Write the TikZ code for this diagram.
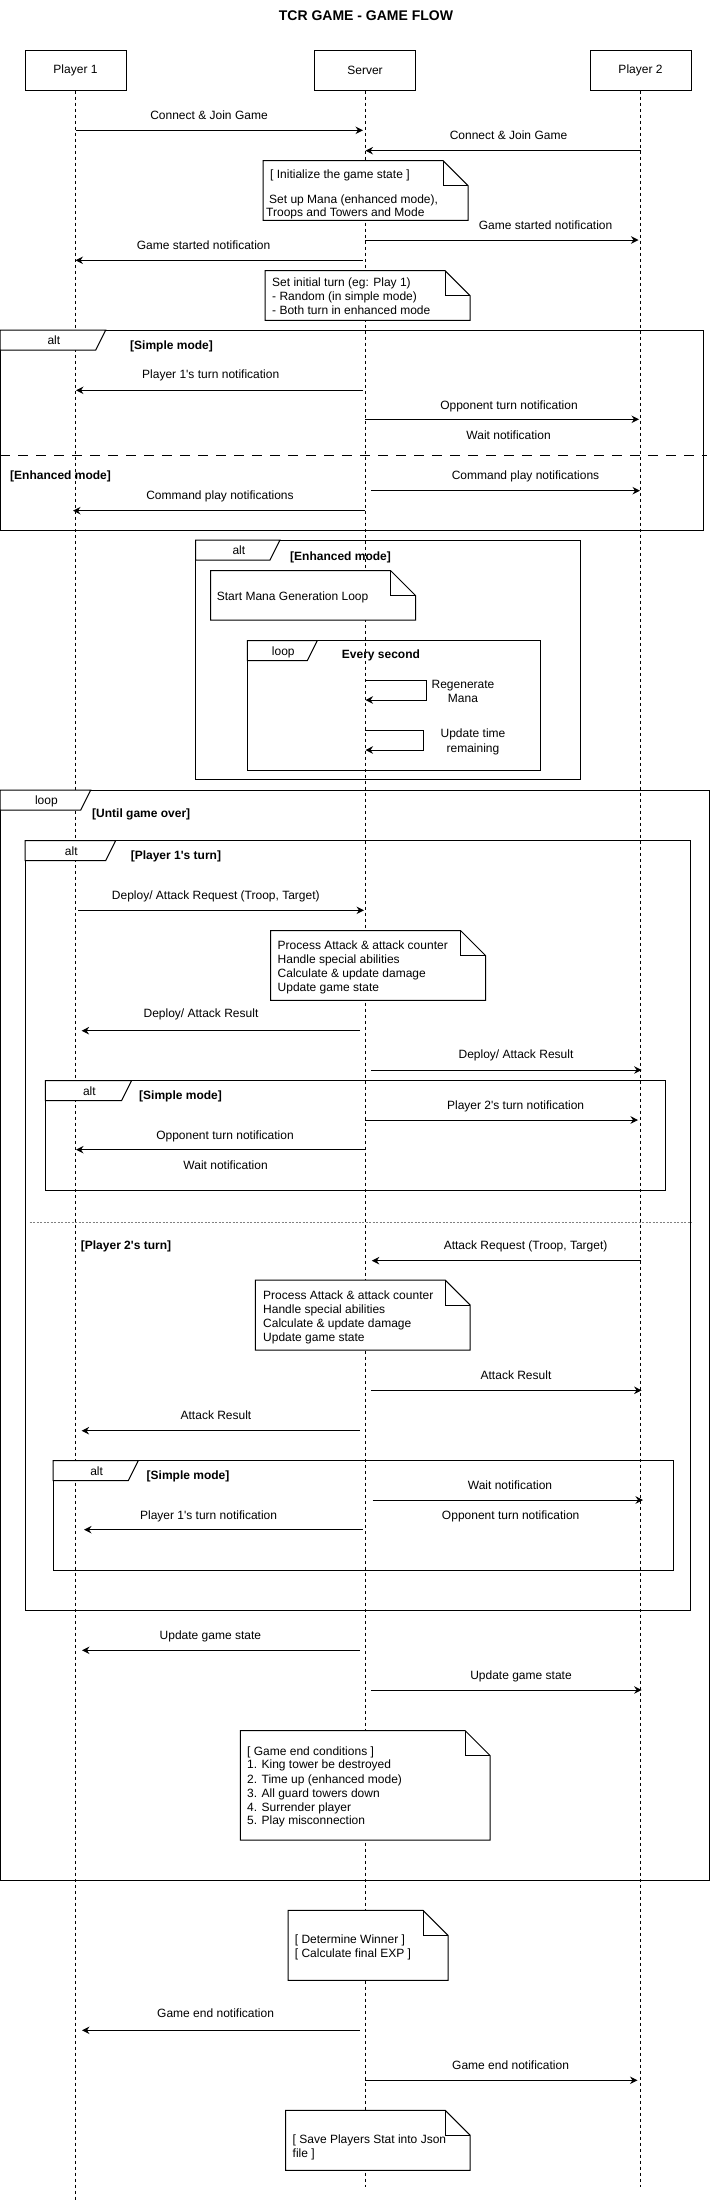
\documentclass[tikz,border=0pt]{standalone}
\usepackage{fontspec}
\setmainfont{Liberation Sans}[Ligatures=TeXOff]
\usetikzlibrary{arrows.meta}
\tikzset{
  lbl/.style={inner sep=0pt, font=\fontsize{12pt}{14pt}\selectfont, text height=8.6pt, text depth=0pt},
  blbl/.style={lbl, font=\fontsize{12pt}{14pt}\selectfont\bfseries},
  msg/.style={line width=1pt, -{Stealth[length=7.5pt,width=7.5pt,inset=2.5pt]}},
  lifeline/.style={line width=1pt, dash pattern=on 3pt off 3pt},
  framebox/.style={line width=1pt},
  notebox/.style={line width=1pt, fill=white, line join=miter},
  actor/.style={draw, line width=1pt, minimum width=101pt, minimum height=40pt, inner sep=0pt, font=\fontsize{12pt}{14pt}\selectfont}
}
% message: name, y, xfrom, xto, label x, label y, text
\newcommand\Msg[7]{%
  \coordinate (#1a) at (#3,#2);
  \coordinate (#1b) at (#4,#2);
  \draw[msg] (#1a) -- (#1b);
  \node[lbl] (#1t) at (#5,#6) {#7};}
% frame: name, x1, y1, x2, y2, tab width, tab label
\newcommand\Frame[7]{%
  \draw[framebox] (#2,#3) rectangle (#4,#5);
  \draw[framebox, fill=white] (#2,#3) -- ({#2+#6},#3) -- ({#2+#6-10},{#3+20}) -- (#2,{#3+20}) -- cycle;
  \node[lbl] (#1) at ({#2+#6/2+1},{#3+10.5}) {#7};}
% note: x1, y1, x2, y2
\newcommand\Note[4]{%
  \draw[notebox] (#1,#2) -- ({#3-25},#2) -- (#3,{#2+25}) -- (#3,#4) -- (#1,#4) -- cycle;
  \draw[line width=1pt] ({#3-25},#2) -- ({#3-25},{#2+25}) -- (#3,{#2+25});}
\begin{document}
\begin{tikzpicture}[x=1pt, y=-1pt]
\useasboundingbox (0,0) rectangle (711,2201);

\node[inner sep=0pt, font=\fontsize{14pt}{16pt}\selectfont\bfseries, text height=10pt, text depth=0pt] (title) at (366,15) {TCR GAME - GAME FLOW};

% participants and lifelines
\node[actor] (p1) at (75.5,70) {Player 1};
\node[actor] (srv) at (365,70) {Server};
\node[actor] (p2) at (640.5,70) {Player 2};
\coordinate (p1end) at (75.5,2201);
\coordinate (srvend) at (365,2187);
\coordinate (p2end) at (640.5,2187);
\draw[lifeline] (p1.south) -- (p1end);
\draw[lifeline] (srv.south) -- (srvend);
\draw[lifeline] (p2.south) -- (p2end);

% initial messages
\Msg{m1}{130.3}{75.5}{363}{209}{114.7}{Connect \& Join Game}
\Msg{m2}{150.7}{640.5}{365.5}{508.5}{134.7}{Connect \& Join Game}
\Note{263}{160.7}{468}{220.3}
\node[lbl, anchor=west] (n1a) at (270,173.7) {[ Initialize the game state ]};
\node[lbl, anchor=west] (n1b) at (269,198.7) {Set up Mana (enhanced mode),};
\node[lbl, anchor=west] (n1c) at (266,212.3) {Troops and Towers and Mode};
\Msg{m3}{240}{365}{638.5}{545.6}{224.7}{Game started notification}
\Msg{m4}{260.3}{363}{75.5}{203.6}{244.7}{Game started notification}
\Note{265}{270.7}{470}{320.3}
\node[lbl, anchor=west] (n2a) at (272,282) {Set initial turn (eg: Play 1)};
\node[lbl, anchor=west] (n2b) at (272,295.7) {- Random (in simple mode)};
\node[lbl, anchor=west] (n2c) at (272,309.7) {- Both turn in enhanced mode};

% alt frame: simple / enhanced
\Frame{fA}{0}{330}{703}{530}{105.7}{alt}
\node[blbl, anchor=west] (gA1) at (130,345.3) {[Simple mode]};
\Msg{m5}{390.3}{363}{76}{210.7}{374.3}{Player 1's turn notification}
\Msg{m6}{419.3}{365}{639}{509}{404.7}{Opponent turn notification}
\node[lbl] (m6w) at (508.6,435) {Wait notification};
\coordinate (dA1) at (0,455);
\coordinate (dA2) at (707,455);
\draw[line width=1pt, dash pattern=on 10pt off 8pt] (dA1) -- (dA2);
\node[blbl, anchor=west] (gA2) at (10,475.3) {[Enhanced mode]};
\Msg{m7}{490.7}{371}{640}{525.5}{475}{Command play notifications}
\Msg{m8}{510.7}{365}{73}{220}{494.7}{Command play notifications}

% alt frame: enhanced mode mana loop
\Frame{fB}{195.7}{540}{580}{779.3}{84.3}{alt}
\node[blbl, anchor=west] (gB) at (290,555.7) {[Enhanced mode]};
\Note{210.7}{570.7}{415.7}{620}
\node[lbl, anchor=west] (n3) at (216.7,595.7) {Start Mana Generation Loop};
\Frame{fC}{247.3}{640.7}{540.7}{770}{70}{loop}
\node[blbl, anchor=west] (gC) at (341.7,654.3) {Every second};
\coordinate (s1a) at (365,680.7);
\coordinate (s1b) at (426,680.7);
\coordinate (s1c) at (426,700);
\coordinate (s1d) at (365.5,700);
\draw[msg] (s1a) -- (s1b) -- (s1c) -- (s1d);
\node[lbl] (s1t1) at (463,684) {Regenerate};
\node[lbl] (s1t2) at (463,698.3) {Mana};
\coordinate (s2a) at (365,730.7);
\coordinate (s2b) at (423.3,730.7);
\coordinate (s2c) at (423.3,750);
\coordinate (s2d) at (365.5,750);
\draw[msg] (s2a) -- (s2b) -- (s2c) -- (s2d);
\node[lbl] (s2t1) at (473,732.7) {Update time};
\node[lbl] (s2t2) at (473,748.3) {remaining};

% main loop
\Frame{fD}{0}{790}{709.7}{1880}{90.7}{loop}
\node[blbl, anchor=west] (gD) at (92,813.3) {[Until game over]};
\Frame{fE}{25}{840.7}{690.6}{1610}{90.6}{alt}
\node[blbl, anchor=west] (gE1) at (130.6,855.3) {[Player 1's turn]};
\Msg{m9}{910.3}{78}{364}{215.8}{895.3}{Deploy/ Attack Request (Troop, Target)}
\Note{270.7}{930.7}{485.7}{1000.3}
\node[lbl, anchor=west] (n4a) at (277.5,944.7) {Process Attack \& attack counter};
\node[lbl, anchor=west] (n4b) at (277.5,959) {Handle special abilities};
\node[lbl, anchor=west] (n4c) at (277.5,973) {Calculate \& update damage};
\node[lbl, anchor=west] (n4d) at (277.5,986.7) {Update game state};
\Msg{m10}{1030.7}{359.6}{81.6}{201}{1012.7}{Deploy/ Attack Result}
\Msg{m11}{1070}{371}{641.6}{516}{1054.3}{Deploy/ Attack Result}
\Frame{fF}{45.3}{1080.7}{665.7}{1190}{86.2}{alt}
\node[blbl, anchor=west] (gF) at (139,1095.3) {[Simple mode]};
\Msg{m12}{1120}{365}{638}{515.6}{1104.7}{Player 2's turn notification}
\Msg{m13}{1149.7}{365}{76}{225}{1134.7}{Opponent turn notification}
\node[lbl] (m13w) at (225.6,1164.7) {Wait notification};
\coordinate (dE1) at (29.5,1222.7);
\coordinate (dE2) at (691.5,1222.7);
\draw[line width=0.8pt, gray, dash pattern=on 2pt off 1.5pt] (dE1) -- (dE2);
\node[blbl, anchor=west] (gE2) at (80.7,1245.3) {[Player 2's turn]};
\Msg{m14}{1260.7}{640.5}{371.8}{525.6}{1245.3}{Attack Request (Troop, Target)}
\Note{255.3}{1280}{470.2}{1350}
\node[lbl, anchor=west] (n5a) at (263,1295) {Process Attack \& attack counter};
\node[lbl, anchor=west] (n5b) at (263,1309) {Handle special abilities};
\node[lbl, anchor=west] (n5c) at (263,1323) {Calculate \& update damage};
\node[lbl, anchor=west] (n5d) at (263,1336.7) {Update game state};
\Msg{m15}{1390.3}{371}{641.6}{516}{1375}{Attack Result}
\Msg{m16}{1430.7}{359.6}{81.6}{216}{1415}{Attack Result}
\Frame{fG}{53}{1460.7}{673.4}{1570}{85.3}{alt}
\node[blbl, anchor=west] (gG) at (146.5,1475.3) {[Simple mode]};
\Msg{m17}{1500}{372.7}{643}{510}{1484.7}{Wait notification}
\node[lbl] (m17o) at (510.7,1514.7) {Opponent turn notification};
\Msg{m18}{1529.7}{362.8}{84}{208.6}{1514.7}{Player 1's turn notification}
\Msg{m19}{1650.3}{359.6}{82}{210.4}{1635}{Update game state}
\Msg{m20}{1690}{371}{641.6}{521}{1675}{Update game state}
\Note{240.3}{1730.7}{490.2}{1840}
\node[lbl, anchor=west] (n6a) at (247,1751) {[ Game end conditions ]};
\node[lbl, anchor=west] (n6b) at (247,1764.6) {1. King tower be destroyed};
\node[lbl, anchor=west] (n6c) at (247,1779) {2. Time up (enhanced mode)};
\node[lbl, anchor=west] (n6d) at (247,1793) {3. All guard towers down};
\node[lbl, anchor=west] (n6e) at (247,1806.7) {4. Surrender player};
\node[lbl, anchor=west] (n6f) at (247,1820.3) {5. Play misconnection};

% end of game
\Note{288}{1910.3}{448}{1980.3}
\node[lbl, anchor=west] (n7a) at (294.7,1938.7) {[ Determine Winner ]};
\node[lbl, anchor=west] (n7b) at (294.7,1952.7) {[ Calculate final EXP ]};
\Msg{m21}{2030.3}{359.6}{82}{215.6}{2012.7}{Game end notification}
\Msg{m22}{2080.3}{365}{637.5}{510.6}{2064.7}{Game end notification}
\Note{285.7}{2110.3}{470.2}{2170.3}
\node[lbl, anchor=west] (n8a) at (292.5,2139) {[ Save Players Stat into Json};
\node[lbl, anchor=west] (n8b) at (292.5,2152.7) {file ]};
\end{tikzpicture}
\end{document}
